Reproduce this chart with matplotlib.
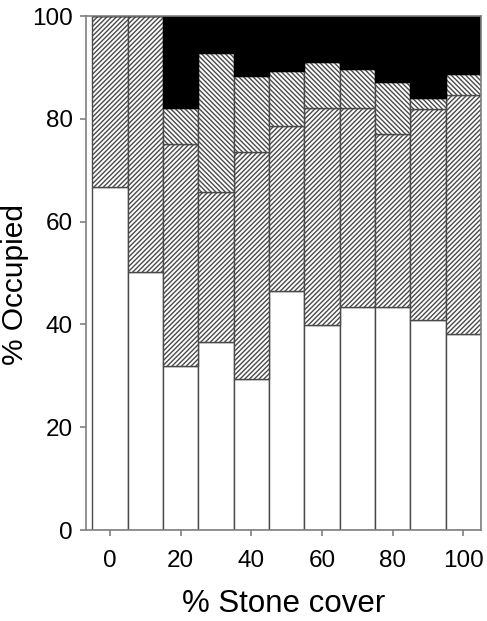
import matplotlib
matplotlib.use("Agg")
import matplotlib.pyplot as plt
import numpy as np

plt.rcParams['font.family'] = ['Liberation Sans', 'DejaVu Sans']
plt.rcParams['hatch.linewidth'] = 1.0

# stone cover classes (%)
stone_cover = [0, 10, 20, 30, 40, 50, 60, 70, 80, 90, 100]
# cumulative tops of each stacked segment (% occupied)
white_top = [66.8, 50.2, 31.9, 36.5, 29.4, 46.5, 39.9, 43.4, 43.4, 40.9, 38.1]
fwd_top = [100, 100, 75.2, 65.8, 73.6, 78.7, 82.2, 82.2, 77.0, 82.0, 84.6]
back_top = [100, 100, 82.2, 92.9, 88.3, 89.3, 91.1, 89.7, 87.2, 84.1, 88.7]
black_top = [100] * 11

x = np.array(stone_cover)
white_top = np.array(white_top)
fwd_top = np.array(fwd_top)
back_top = np.array(back_top)
black_top = np.array(black_top)

fig = plt.figure(figsize=(4.87, 6.21), dpi=100)
ax = fig.add_axes([0.1766, 0.1465, 0.9877 - 0.1766, 0.974 - 0.1465])

edge = '#4a4a4a'
w = 10
ax.bar(x, white_top, width=w, color='white', edgecolor=edge, linewidth=1)
ax.bar(x, fwd_top - white_top, bottom=white_top, width=w, color='white',
       edgecolor=edge, hatch='/' * 7, linewidth=1)
ax.bar(x, back_top - fwd_top, bottom=fwd_top, width=w, color='white',
       edgecolor=edge, hatch='\\' * 7, linewidth=1)
ax.bar(x, black_top - back_top, bottom=back_top, width=w, color='black',
       edgecolor='black', linewidth=1)

ax.set_xlim(-6.8, 105)
ax.set_ylim(0, 100)
ax.set_xticks([0, 20, 40, 60, 80, 100])
ax.set_yticks([0, 20, 40, 60, 80, 100])

for s in ax.spines.values():
    s.set_color('#808080')
    s.set_linewidth(1.2)

ax.tick_params(axis='both', colors='#808080', labelcolor='black',
               labelsize=17.5, length=4.5, width=1.2)
ax.tick_params(axis='y', pad=5)
ax.tick_params(axis='x', pad=10)

ax.set_xlabel('% Stone cover', fontsize=22.5, labelpad=12)
ax.set_ylabel('% Occupied', fontsize=21.5)
ax.yaxis.set_label_coords(-0.144, 0.477)

fig.savefig('out.png', dpi=100)
